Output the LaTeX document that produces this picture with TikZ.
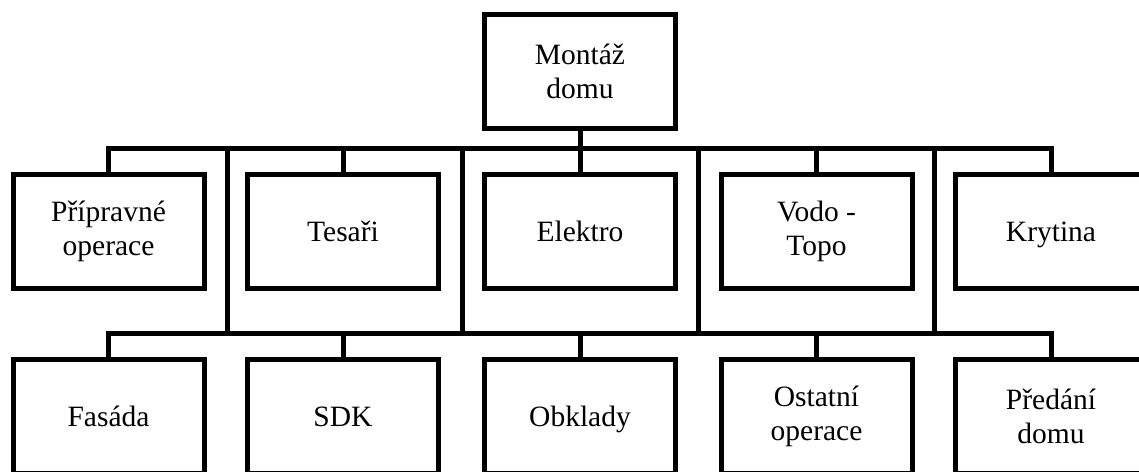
\documentclass[tikz,border=0pt]{standalone}
\usepackage{fontspec}
\setmainfont{Liberation Serif}
\usetikzlibrary{calc}
\begin{document}
\begin{tikzpicture}[x=1pt,y=-1pt,
  box/.style={draw=black, line width=5pt, fill=white, minimum width=191pt, minimum height=114pt,
    inner sep=0pt, align=center, font=\fontsize{29.5}{34.5}\selectfont},
  one/.style={text height=20pt, text depth=0pt},
  conn/.style={draw=black, line width=5pt, line join=miter, line cap=butt}]
\useasboundingbox (0,0) rectangle (1139,471);
\clip (0,0) rectangle (1139,471);
\fill[white] (0,0) rectangle (1139,471);
% top
\node[box] (top) at (580,71.5) {Montáž\\domu};
% row 2
\node[box] (a1) at (108.5,231.5) {Přípravné\\operace};
\node[box, one] (a2) at (343,231.5) {Tesaři};
\node[box, one] (a3) at (580,231.5) {Elektro};
\node[box] (a4) at (816.5,231.5) {Vodo -\\Topo};
\node[box, one] (a5) at (1051,231.5) {Krytina};
% row 3
\node[box, one] (c1) at (108.5,416.5) {Fasáda};
\node[box, one] (c2) at (343,416.5) {SDK};
\node[box, one] (c3) at (580,416.5) {Obklady};
\node[box] (c4) at (816.5,416.5) {Ostatní\\operace};
\node[box] (c5) at (1051,416.5) {Předání\\domu};
% buses
\coordinate (bus1) at (580,148.5);
\coordinate (bus2) at (580,333);
\coordinate (v1) at (227,0);
\coordinate (v2) at (462,0);
\coordinate (v3) at (698,0);
\coordinate (v4) at (934,0);
\draw[conn] (a1.north) -- (a1.north |- bus1) -- (a5.north |- bus1) -- (a5.north);
\draw[conn] (top.south) -- (bus1);
\foreach \n in {a2,a3,a4} \draw[conn] (\n.north |- bus1) -- (\n.north);
\foreach \v in {v1,v2,v3,v4} \draw[conn] (\v |- bus1) -- (\v |- bus2);
\draw[conn] (c1.north) -- (c1.north |- bus2) -- (c5.north |- bus2) -- (c5.north);
\foreach \n in {c2,c3,c4} \draw[conn] (\n.north |- bus2) -- (\n.north);
\end{tikzpicture}
\end{document}
